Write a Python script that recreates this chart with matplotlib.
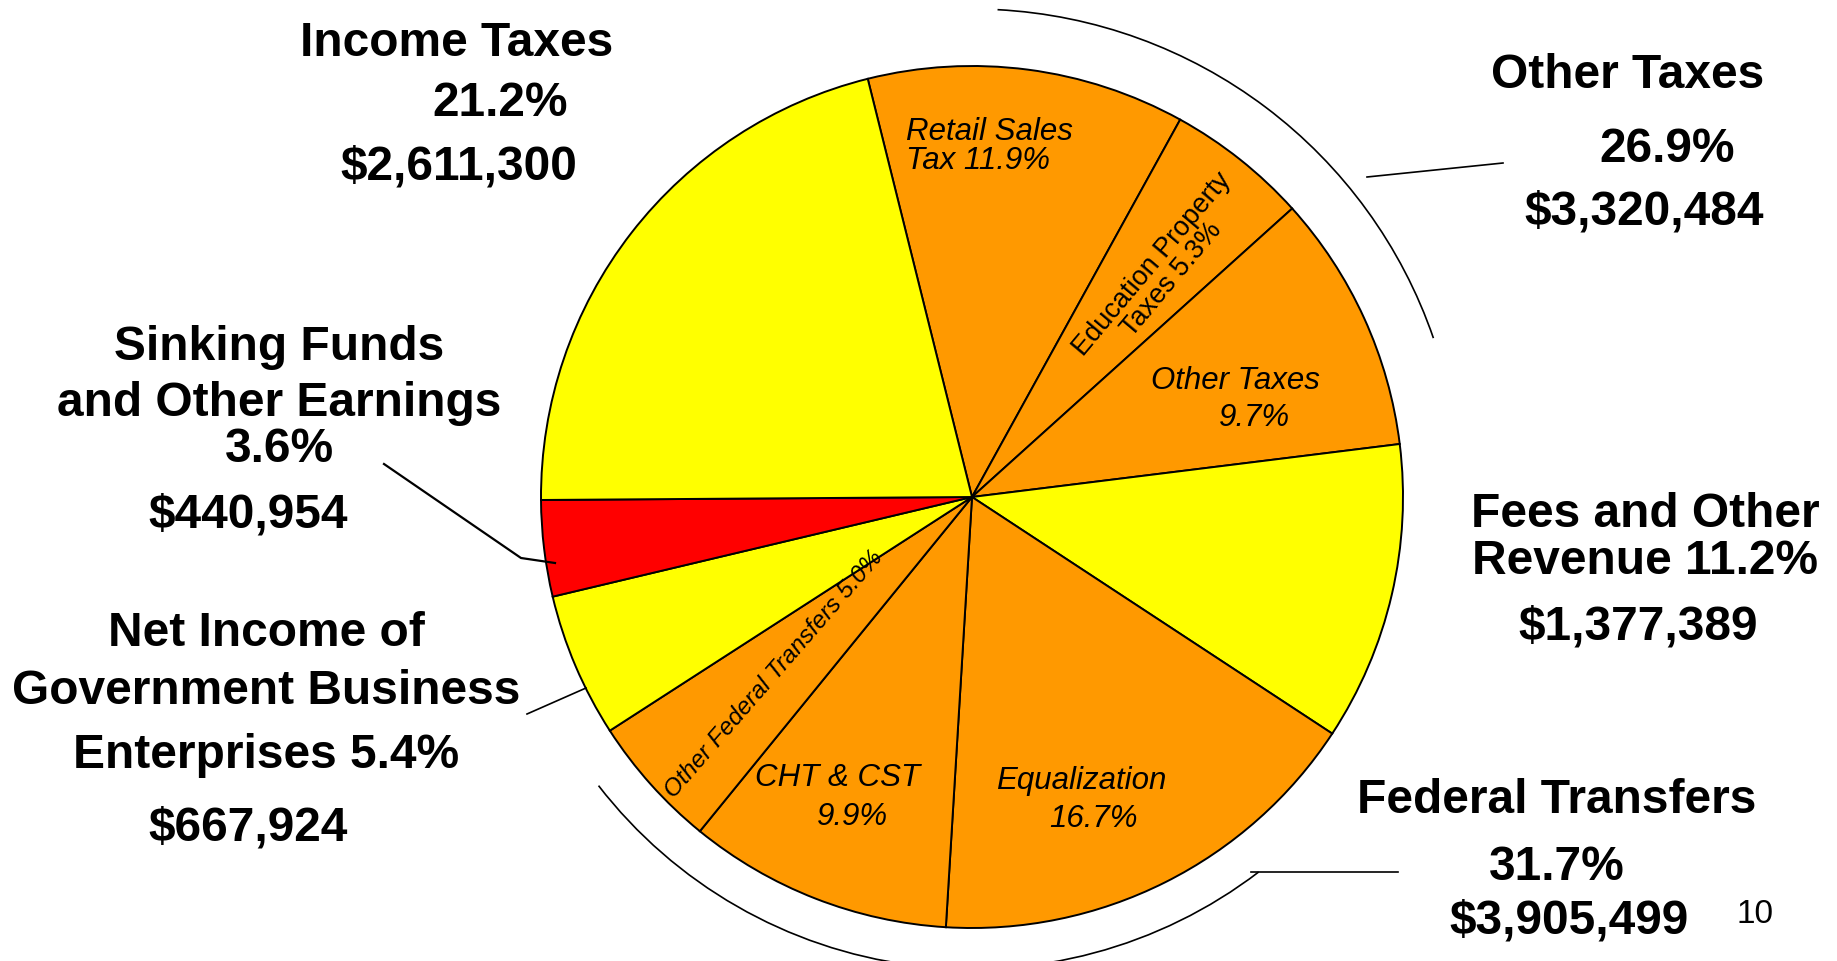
import matplotlib
matplotlib.use('Agg')
from matplotlib import pyplot as plt
from matplotlib.patches import Arc

plt.rcParams['font.family'] = ['Liberation Sans', 'DejaVu Sans']

# slices, clockwise from Retail Sales Tax
slice_names = ['Retail Sales Tax', 'Education Property Taxes', 'Other Taxes',
               'Fees and Other Revenue', 'Equalization', 'CHT & CST',
               'Other Federal Transfers', 'Net Income of GBE',
               'Sinking Funds and Other Earnings', 'Income Taxes']
slice_pct = [11.9, 5.3, 9.7, 11.2, 16.7, 9.9, 5.0, 5.4, 3.6, 21.2]
slice_colors = ['#FF9900', '#FF9900', '#FF9900', '#FFFF00', '#FF9900',
                '#FF9900', '#FF9900', '#FFFF00', '#FF0000', '#FFFF00']

# outer group labels
group_lines = [
    ['Income Taxes', '21.2%', '$2,611,300'],
    ['Other Taxes', '26.9%', '$3,320,484'],
    ['Fees and Other', 'Revenue 11.2%', '$1,377,389'],
    ['Federal Transfers', '31.7%', '$3,905,499'],
    ['Sinking Funds', 'and Other Earnings', '3.6%', '$440,954'],
    ['Net Income of', 'Government Business', 'Enterprises 5.4%', '$667,924'],
]
group_pos = [
    [(457, 44), (500, 104), (459, 167)],
    [(1628, 75), (1667, 150), (1644, 212)],
    [(1645, 515), (1645, 562), (1638, 627)],
    [(1557, 801), (1557, 868), (1569, 921)],
    [(279, 348), (279, 404), (279, 450), (248, 515)],
    [(266, 634), (266, 692), (266, 756), (248, 828)],
]

W, H = 1837, 962
fig = plt.figure(figsize=(W / 100, H / 100), dpi=100)
ax = fig.add_axes([0, 0, 1, 1])

cx, cy, r = 972, 498, 431
# y axis is flipped below, so counterclock in data = clockwise on screen
ax.pie(slice_pct, colors=slice_colors, startangle=-104, counterclock=True,
       center=(cx, cy), radius=r, frame=True,
       wedgeprops=dict(edgecolor='black', linewidth=1.4))
ax.set_xlim(0, W)
ax.set_ylim(H, 0)
ax.set_aspect('equal')
ax.axis('off')

# brackets round the groups
ax.add_patch(Arc((cx, cy), 2 * 488, 2 * 488, theta1=-87, theta2=-19,
                 color='black', lw=1.2))
ax.add_patch(Arc((cx, cy), 2 * 472, 2 * 472, theta1=52.6, theta2=142.3,
                 color='black', lw=1.2))

# leader lines
ax.plot([1367, 1503], [178, 164], color='black', lw=1.2)
ax.plot([1251, 1398], [873, 873], color='black', lw=1.2)
ax.plot([384, 521, 555], [465, 559, 564], color='black', lw=1.6)
ax.plot([527, 586], [715, 689], color='black', lw=1.2)

for lines, pos in zip(group_lines, group_pos):
    for t, (x, y) in zip(lines, pos):
        ax.text(x, y, t, ha='center', va='center', fontsize=34.5,
                fontweight='bold')

# labels inside the slices
it = dict(fontsize=22.5, style='italic', color='black')
ax.text(906, 140, 'Retail Sales', ha='left', va='baseline', **it)
ax.text(906, 169, 'Tax 11.9%', ha='left', va='baseline', **it)
ax.text(1235, 381, 'Other Taxes', ha='center', va='center', **it)
ax.text(1254, 418, '9.7%', ha='center', va='center', **it)
ax.text(838, 778, 'CHT & CST', ha='center', va='center', **it)
ax.text(852, 817, '9.9%', ha='center', va='center', **it)
ax.text(1081, 781, 'Equalization', ha='center', va='center', **it)
ax.text(1093, 819, '16.7%', ha='center', va='center', **it)
ax.text(1162, 272, 'Education Property\nTaxes 5.3%', ha='center',
        va='center', rotation=50, rotation_mode='anchor', fontsize=19.5,
        linespacing=0.95)
ax.text(774, 674, 'Other Federal Transfers 5.0%', ha='center', va='center',
        rotation=49, rotation_mode='anchor', fontsize=17.5, style='italic')

ax.text(1755, 915, '10', ha='center', va='center', fontsize=24)

fig.savefig('out.png', dpi=100)
